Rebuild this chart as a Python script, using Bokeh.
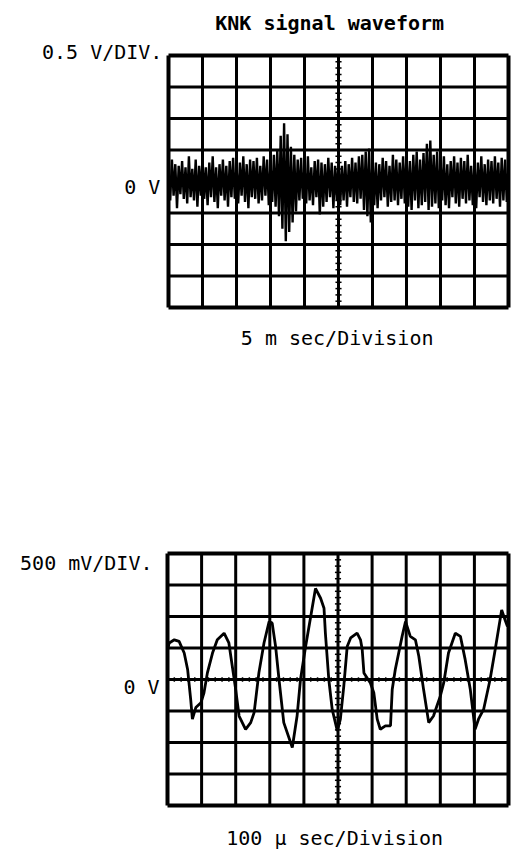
import numpy as np
from bokeh.plotting import figure
from bokeh.models import Range1d, Label
from bokeh.layouts import column
from bokeh.embed import file_html
from bokeh.resources import INLINE

# ---- texts ----
title_text = "KNK signal waveform"
top_volt_label = "0.5 V/DIV."
top_zero_label = "0 V"
top_time_label = "5 m sec/Division"
bot_volt_label = "500 mV/DIV."
bot_zero_label = "0 V"
bot_time_label = "100 \u00b5 sec/Division"

# ---- graticule (divisions) ----
div_x = [0, 1, 2, 3, 4, 5, 6, 7, 8, 9, 10]
div_y = [-4, -3, -2, -1, 0, 1, 2, 3, 4]

# ---- top trace: KNK noise (divisions, 0.05 div per sample) ----
knk_noise = [
    0.35, -0.6, 0.7, -0.45, 0.55, -0.85, 0.5, -0.4, 0.65, -0.55,
    0.45, -0.7, 0.8, -0.5, 0.4, -0.6, 0.7, -0.8, 0.5, -0.45,
    0.75, -0.55, 0.45, -0.75, 0.6, -0.5, 0.8, -0.65, 0.45, -0.85,
    0.55, -0.45, 0.7, -0.6, 0.5, -0.8, 0.65, -0.5, 0.75, -0.55,
    0.5, -0.7, 0.6, -0.45, 0.8, -0.65, 0.55, -0.85, 0.7, -0.5,
    0.65, -0.55, 0.75, -0.7, 0.5, -0.6, 0.8, -0.45, 0.7, -0.75,
    0.6, -0.65, 0.85, -0.8, 1.0, -1.1, 1.45, -1.5, 1.85, -1.9,
    1.5, -1.6, 1.1, -1.3, 0.85, -0.95, 0.7, -0.6, 0.75, -0.55,
    0.5, -0.7, 0.8, -0.6, 0.45, -0.75, 0.65, -0.5, 0.7, -1.05,
    0.6, -0.8, 0.55, -0.65, 0.75, -0.5, 0.6, -0.85, 0.5, -0.6,
    0.7, -0.75, 0.5, -0.6, 0.65, -0.8, 0.55, -0.5, 0.75, -0.65,
    0.6, -0.7, 0.8, -0.55, 0.85, -0.9, 0.95, -1.1, 1.05, -1.3,
    0.8, -0.75, 0.6, -0.85, 0.55, -0.6, 0.75, -0.5, 0.65, -0.8,
    0.5, -0.65, 0.85, -0.6, 0.7, -0.75, 0.6, -0.55, 0.8, -0.7,
    0.9, -0.8, 0.65, -0.9, 0.85, -0.6, 0.95, -0.85, 0.7, -0.75,
    0.9, -0.65, 1.2, -0.9, 1.3, -0.8, 0.85, -0.7, 0.95, -0.85,
    0.7, -0.6, 0.8, -0.75, 0.55, -0.85, 0.65, -0.5, 0.8, -0.7,
    0.6, -0.8, 0.75, -0.55, 0.65, -0.7, 0.85, -0.6, 0.5, -0.75,
    0.7, -0.85, 0.6, -0.5, 0.8, -0.65, 0.55, -0.75, 0.7, -0.6,
    0.65, -0.7, 0.8, -0.55, 0.6, -0.8, 0.75, -0.6, 0.7, -0.65,
    0.5,
]
knk_t = np.linspace(0, 10, len(knk_noise))

# ---- bottom trace: 100 us/div waveform (divisions) ----
wave_t = [0.0, 0.05, 0.20, 0.34, 0.49, 0.59, 0.68, 0.73, 0.83, 0.98, 1.07, 1.17,
          1.32, 1.46, 1.66, 1.80, 1.90, 2.00, 2.10, 2.29, 2.44, 2.54, 2.68, 2.83,
          2.98, 3.07, 3.17, 3.27, 3.41, 3.66, 3.80, 3.90, 4.05, 4.20, 4.34, 4.49,
          4.59, 4.63, 4.73, 4.83, 4.98, 5.07, 5.17, 5.27, 5.37, 5.56, 5.66, 5.71,
          5.76, 5.95, 6.05, 6.15, 6.24, 6.39, 6.54, 6.59, 6.68, 6.78, 6.88, 6.98,
          7.12, 7.27, 7.37, 7.51, 7.66, 7.80, 7.90, 8.00, 8.10, 8.24, 8.44, 8.59,
          8.73, 8.88, 9.02, 9.12, 9.27, 9.46, 9.61, 9.80, 9.90, 9.97]
wave_v = [0.95, 1.16, 1.26, 1.21, 0.84, 0.32, -0.63, -1.26, -0.89, -0.74, -0.42, 0.21,
          0.84, 1.26, 1.47, 1.16, 0.42, -0.32, -1.16, -1.58, -1.37, -1.05, 0.21, 1.16,
          1.84, 1.79, 1.05, 0.00, -1.37, -2.16, -1.16, 0.00, 1.05, 2.00, 2.89, 2.58,
          2.26, 1.47, 0.00, -0.95, -1.63, -1.26, -0.21, 1.05, 1.32, 1.47, 1.26, 0.95,
          0.21, -0.11, -0.42, -1.26, -1.58, -1.47, -1.47, -0.32, 0.32, 0.84, 1.37, 1.84,
          1.37, 1.26, 0.74, -0.32, -1.37, -1.16, -0.84, -0.53, -0.11, 0.84, 1.47, 1.37,
          0.63, -0.32, -1.58, -1.26, -0.95, 0.00, 0.95, 2.21, 1.89, 1.68]

FONT = "DejaVu Sans Mono"
FSIZE = "20px"


def scope(width, height, xr, yr):
    p = figure(width=width, height=height, x_range=Range1d(*xr), y_range=Range1d(*yr),
               output_backend="svg", toolbar_location=None,
               x_axis_location=None, y_axis_location=None,
               min_border=0, min_border_left=0, min_border_right=0,
               min_border_top=0, min_border_bottom=0)
    p.grid.visible = False
    p.background_fill_color = "white"
    p.border_fill_color = "white"
    p.outline_line_color = None
    x0, x1 = div_x[0], div_x[-1]
    y0, y1 = div_y[0], div_y[-1]
    # graticule lines
    p.segment(x0=div_x[1:-1], y0=y0, x1=div_x[1:-1], y1=y1, line_color="black", line_width=3)
    p.segment(x0=x0, y0=div_y[1:-1], x1=x1, y1=div_y[1:-1], line_color="black", line_width=3)
    # frame border
    p.segment(x0=[x0, x1], y0=y0, x1=[x0, x1], y1=y1, line_color="black", line_width=4)
    p.segment(x0=x0, y0=[y0, y1], x1=x1, y1=[y0, y1], line_color="black", line_width=4)
    # minor ticks on the centre lines
    mx = np.arange(0.2, 10, 0.2)
    my = np.arange(-3.8, 4, 0.2)
    p.segment(x0=mx, y0=-0.07, x1=mx, y1=0.07, line_color="black", line_width=1.5)
    p.segment(x0=5 - 0.09, y0=my, x1=5 + 0.09, y1=my, line_color="black", line_width=1.5)
    return p


def label(p, x, y, text, align, bold=False):
    p.add_layout(Label(x=x, y=y, text=text, text_align=align, text_baseline="alphabetic",
                       text_font=FONT, text_font_size=FSIZE, text_color="black",
                       text_font_style="bold" if bold else "normal"))


# top scope: frame 168..508 x, 55..307 y  (34 px/div, 31.5 px/div)
p1 = scope(528, 428, (-168 / 34, 360 / 34), (4 - 373 / 31.5, 4 + 55 / 31.5))
p1.line(knk_t, knk_noise, line_color="black", line_width=2.4)
label(p1, 4.74, 5.02, title_text, "center", bold=True)
label(p1, -0.18, 4.1, top_volt_label, "right")
label(p1, -0.24, -0.19, top_zero_label, "right")
label(p1, 4.96, -4.98, top_time_label, "center")

# bottom scope: frame 167..508 x, 553..805 y
p2 = scope(528, 424, (-167 / 34.1, 361 / 34.1), (4 - 299 / 31.5, 4 + 125 / 31.5))
p2.line(wave_t, wave_v, line_color="black", line_width=2.8)
label(p2, -0.44, 3.71, bot_volt_label, "right")
label(p2, -0.23, -0.25, bot_zero_label, "right")
label(p2, 4.9, -5.02, bot_time_label, "center")

layout = column(p1, p2, spacing=0)
open("out.html", "w").write(file_html(layout, INLINE))
